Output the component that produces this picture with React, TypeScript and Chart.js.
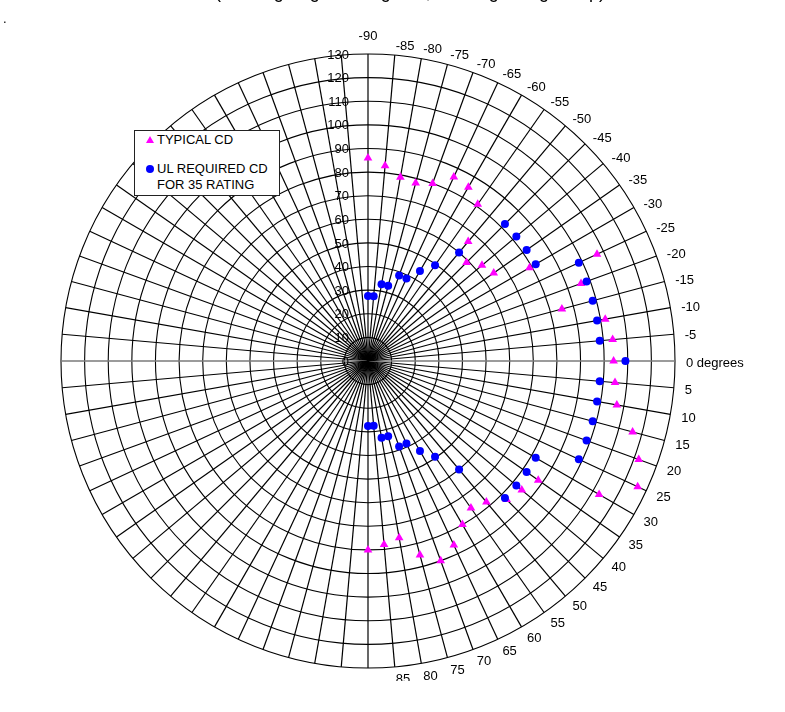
import { useEffect, useRef } from 'react';
import { Chart, registerables } from 'chart.js';
Chart.register(...registerables);

// one spoke every 5 degrees, clockwise from the top (-90) round to the left side
const SPOKES = 72;

const ANGLE_LABELS = [
  '-90', '-85', '-80', '-75', '-70', '-65', '-60', '-55', '-50', '-45', '-40', '-35',
  '-30', '-25', '-20', '-15', '-10', '-5', '0 degrees', '5', '10', '15', '20', '25',
  '30', '35', '40', '45', '50', '55', '60', '65', '70', '75', '80', '85',
];

const RING_LABELS = ['0', '10', '20', '30', '40', '50', '60', '70', '80', '90', '100', '110', '120', '130'];

// values for -90 .. 90 degrees, 5 degree steps
const TYPICAL_CD = [
  86, 83, 79, 78, 80, 86, 85, 81, 66, 59, 63, 65,
  79, 107, 96, 85, 102, 104, 104, 105, 107, 116, 122, 126,
  113, 88, 85, 83, 78, 76, 80, 86, 90, 85, 76, 78, 80,
];

const UL_REQUIRED_CD = [
  27.5, 27.5, 33, 33, 38.5, 38.5, 44, 49.5, 60, 82, 82, 82,
  82, 98.5, 98.5, 98.5, 98.5, 98.5, 109, 98.5, 98.5, 98.5, 98.5, 98.5,
  82, 82, 82, 82, 60, 49.5, 44, 38.5, 38.5, 33, 33, 27.5, 27.5,
];

const FONT = '13px Arial, "Liberation Sans", sans-serif';

const spread = (vals: number[]) =>
  Array.from({ length: SPOKES }, (_, i) => (i < vals.length ? vals[i] : null));

const polarText = {
  id: 'polarText',
  afterDraw(chart: any) {
    const r = chart.scales.r;
    const ctx = chart.ctx;
    ctx.save();
    ctx.font = FONT;
    ctx.fillStyle = '#000';
    ctx.textAlign = 'right';
    ctx.textBaseline = 'middle';
    RING_LABELS.forEach((t) => {
      const d = r.getDistanceFromCenterForValue(Number(t));
      ctx.fillText(t, r.xCenter - 19, r.yCenter - d + 1);
    });
    chart.data.labels.forEach((t: string, i: number) => {
      if (!t) return;
      const p = r.getPointPosition(i, r.drawingArea + 11);
      if (i === 0) {
        ctx.textAlign = 'center';
        ctx.textBaseline = 'alphabetic';
        ctx.fillText(t, p.x, p.y - 3);
      } else {
        ctx.textAlign = 'left';
        ctx.textBaseline = 'middle';
        ctx.fillText(t, p.x, p.y + 2);
      }
    });
    ctx.restore();
  },
};

export default function App() {
  const chartRef = useRef<HTMLCanvasElement>(null);
  const chartInstance = useRef<Chart | null>(null);

  useEffect(() => {
    if (!chartRef.current) return;
    if (chartInstance.current) chartInstance.current.destroy();

    chartInstance.current = new Chart(chartRef.current, {
      type: 'radar',
      data: {
        labels: Array.from({ length: SPOKES }, (_, i) => ANGLE_LABELS[i] ?? ''),
        datasets: [
          {
            label: 'UL REQUIRED CD FOR 35 RATING',
            data: spread(UL_REQUIRED_CD),
            order: 0,
            showLine: false,
            fill: false,
            borderWidth: 0,
            backgroundColor: 'transparent',
            pointStyle: 'circle',
            pointRadius: 4,
            pointBorderWidth: 0,
            pointBackgroundColor: '#0000FF',
            pointBorderColor: '#0000FF',
          },
          {
            label: 'TYPICAL CD',
            data: spread(TYPICAL_CD),
            order: 1,
            showLine: false,
            fill: false,
            borderWidth: 0,
            backgroundColor: 'transparent',
            pointStyle: 'triangle',
            pointRadius: 5,
            pointBorderWidth: 0,
            pointBackgroundColor: '#FF00FF',
            pointBorderColor: '#FF00FF',
          },
        ],
      },
      options: {
        responsive: true,
        maintainAspectRatio: false,
        animation: false,
        events: [],
        layout: { padding: { left: 61, right: 110, top: 54, bottom: 13 } },
        plugins: { legend: { display: false }, tooltip: { enabled: false } },
        scales: {
          r: {
            min: 0,
            max: 130,
            startAngle: 0,
            ticks: { display: false, stepSize: 10 },
            grid: { circular: true, color: '#000', lineWidth: 1.1 },
            angleLines: {
              color: (c: any) => (c.index === 18 || c.index === 54 ? '#7a7a7a' : '#000'),
              lineWidth: (c: any) => (c.index === 18 || c.index === 54 ? 1.5 : 1.2),
            },
            pointLabels: { display: false },
          },
        },
      },
      plugins: [polarText],
    });
    return () => { chartInstance.current?.destroy(); };
  }, []);

  const txt = { position: 'absolute' as const, font: FONT, lineHeight: '16px', color: '#000', whiteSpace: 'nowrap' as const };

  return (
    <div style={{ position: 'absolute', left: 0, top: 0, width: 785, height: 712, background: '#fff', overflow: 'hidden' }}>
      <div style={{ position: 'absolute', left: 0, top: 0, width: 785, height: 681 }}>
        <canvas ref={chartRef} />
      </div>
      <div style={{ position: 'absolute', left: 190, top: -18, width: 440, textAlign: 'center', font: '18px Arial, "Liberation Sans", sans-serif', lineHeight: '20px', whiteSpace: 'nowrap' }}>
        (Viewing Angle in Degrees, Looking Along Lamp)
      </div>
      <div style={{ ...txt, left: 3, top: 11 }}>.</div>
      <div style={{ position: 'absolute', left: 134, top: 130, width: 146, height: 66, boxSizing: 'border-box', border: '1px solid #222', background: '#fff' }}>
        <div style={{ position: 'absolute', left: 11, top: 5, width: 8, height: 7, background: '#FF00FF', clipPath: 'polygon(50% 0, 100% 100%, 0 100%)' }} />
        <div style={{ ...txt, left: 22, top: 1 }}>TYPICAL CD</div>
        <div style={{ position: 'absolute', left: 11, top: 34, width: 8, height: 8, borderRadius: '50%', background: '#0000FF' }} />
        <div style={{ ...txt, left: 22, top: 30 }}>UL REQUIRED CD<br />FOR 35 RATING</div>
      </div>
    </div>
  );
}
